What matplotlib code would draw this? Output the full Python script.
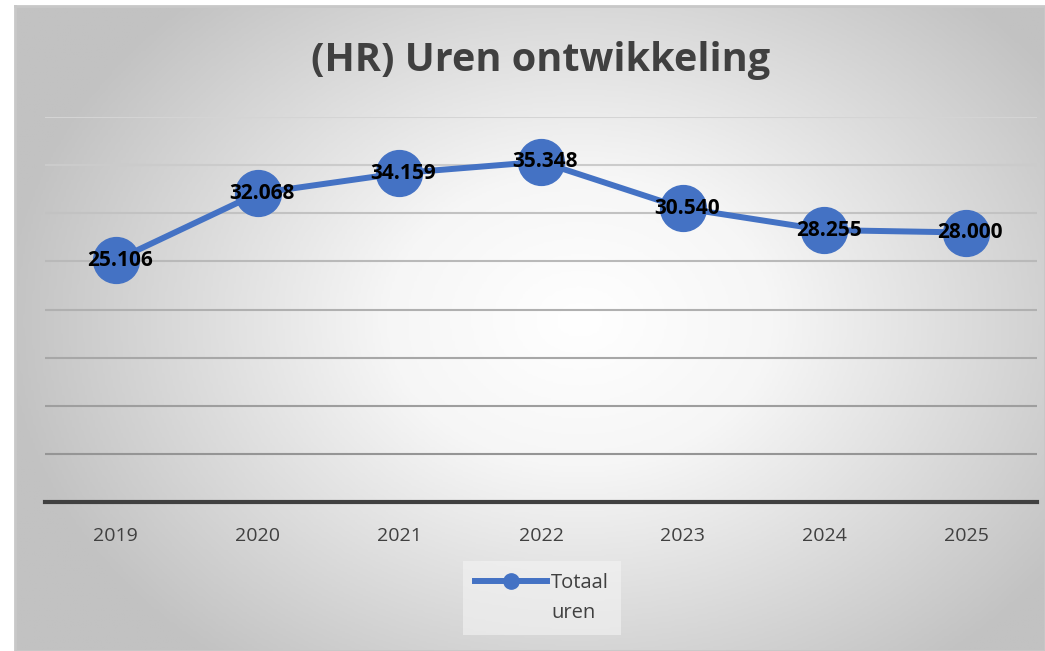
import numpy as np
import matplotlib.pyplot as plt
from matplotlib.colors import LinearSegmentedColormap
from matplotlib.lines import Line2D

years = ['2019', '2020', '2021', '2022', '2023', '2024', '2025']
uren = [25106, 32068, 34159, 35348, 30540, 28255, 28000]
labels = ['25.106', '32.068', '34.159', '35.348', '30.540', '28.255', '28.000']

blue = '#4472C4'
W, H = 1045, 651

fig = plt.figure(figsize=(W / 100, H / 100), dpi=100)
fig.patch.set_facecolor('white')

# chart box with radial gradient background
bx0, by0, bx1, by1 = 15, 6, 1045, 651
bg = fig.add_axes([bx0 / W, 1 - by1 / H, (bx1 - bx0) / W, (by1 - by0) / H])
gx, gy = np.meshgrid(np.linspace(bx0, bx1, 400), np.linspace(by0, by1, 260))
r = np.sqrt(((gx - 580) / 580) ** 2 + ((gy - 320) / 440) ** 2)
r = np.clip(r, 0, 1)
cmap = LinearSegmentedColormap.from_list('g', ['#ffffff', '#f6f6f6', '#dcdcdc', '#c2c2c2'])
bg.imshow(r, cmap=cmap, aspect='auto', extent=[0, 1, 0, 1], vmin=0, vmax=1)
bg.set_axis_off()
bg.plot([0, 1, 1, 0, 0], [1, 1, 0, 0, 1], color='#c8c8c8', lw=2,
        transform=bg.transAxes, clip_on=False)

# plot area
px0, px1, py0, py1 = 45, 1037, 117, 502
ax = fig.add_axes([px0 / W, 1 - py1 / H, (px1 - px0) / W, (py1 - py0) / H])
ax.patch.set_alpha(0)
ax.set_xlim(-0.5, len(years) - 0.5)
ax.set_ylim(0, 40000)

grid_vals = np.arange(5000, 40001, 5000)
for gv in grid_vals:
    t = gv / 40000
    c = 0.55 + 0.28 * t
    ax.axhline(gv, color=(c, c, c), lw=1.5, zorder=1)
ax.axhline(0, color='#404040', lw=3, zorder=2, clip_on=False)

x = np.arange(len(years))
line, = ax.plot(x, uren, color=blue, lw=4.3, marker='o', markersize=33, zorder=3)
for xi, yi, lab in zip(x, uren, labels):
    ax.text(xi + 0.03, yi, lab, ha='center', va='center', fontsize=15,
            fontweight='bold', color='black', family='Open Sans', zorder=4)

ax.set_xticks(x)
ax.set_xticklabels(years, fontsize=14, color='#404040', family='Open Sans')
ax.tick_params(axis='x', length=0, pad=18)
ax.set_yticks([])
for s in ax.spines.values():
    s.set_visible(False)

fig.text(541 / W, 1 - 61 / H, '(HR) Uren ontwikkeling', ha='center', va='center',
         fontsize=28.5, fontweight='bold', color='#404040', family='Open Sans')

# legend: handle on the first text row only, label wraps to a second row
h1 = Line2D([], [], color=blue, lw=4.3, marker='o', markersize=11)
h2 = Line2D([], [], color='none')
leg = ax.legend([h1, h2], ['Totaal', 'uren'], loc='center',
                bbox_to_anchor=(542 / W, 1 - 598 / H),
                bbox_transform=fig.transFigure, frameon=True,
                handlelength=3.6, handletextpad=0.2, labelspacing=0.45,
                prop={'family': 'Open Sans', 'size': 14.5})
leg.get_frame().set_facecolor('#f4f4f4')
leg.get_frame().set_edgecolor('none')
leg.get_frame().set_alpha(0.6)
leg.get_frame().set_boxstyle('square', pad=0.2)
for t in leg.get_texts():
    t.set_color('#404040')

fig.savefig('out.png', dpi=100)
